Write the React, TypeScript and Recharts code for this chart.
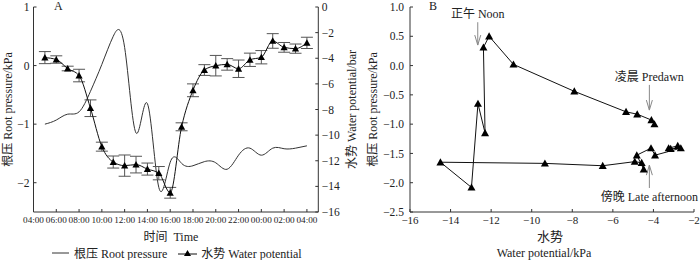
import { LineChart, Line, XAxis, YAxis, ErrorBar, Label, ReferenceLine } from 'recharts'

// hourly readings, 05:00 of day 1 to 04:00 of day 2 (hour 24+ = next day)
const hours = [5, 6, 7, 8, 9, 10, 11, 12, 13, 14, 15, 16, 17, 18, 19, 20, 21, 22, 23, 24, 25, 26, 27, 28]
const waterPotential = [
  -3.95, -4.1, -4.8, -5.35, -7.9, -10.9, -12.1, -12.38, -12.3, -12.65, -12.97, -14.5,
  -9.35, -6.5, -4.92, -4.58, -4.48, -4.82, -4.12, -3.92, -2.65, -3.15, -3.25, -2.8,
]
const waterPotentialErr = [
  0.47, 0.29, 0.18, 0.49, 0.65, 0.35, 0.47, 0.83, 0.65, 0.47, 0.52, 0.42,
  0.31, 0.5, 0.42, 0.8, 0.45, 0.68, 0.52, 0.52, 0.57, 0.38, 0.36, 0.44,
]
const rootPressure = [
  -1.0, -0.93, -0.83, -0.79, -0.44, 0.02, 0.5, 0.31, -1.15, -0.65, -2.08, -1.65,
  -1.67, -1.71, -1.64, -1.66, -1.77, -1.53, -1.41, -1.53, -1.41, -1.42, -1.41, -1.37,
]

const timeTicks = [4, 6, 8, 10, 12, 14, 16, 18, 20, 22, 24, 26, 28]
const rpTicksA = [1, 0, -1, -2]
const wpTicksA = [0, -2, -4, -6, -8, -10, -12, -14, -16]
const wpTicksB = [-16, -14, -12, -10, -8, -6, -4, -2]
const rpTicksB = [1, 0.5, 0, -0.5, -1, -1.5, -2, -2.5]

const notes = [
  { text: '正午 Noon', x: -12.66, from: 0.74, to: 0.35, below: false },
  { text: '凌晨 Predawn', x: -4.2, from: -0.33, to: -0.76, below: false },
  { text: '傍晚 Late afternoon', x: -4.2, from: -2.09, to: -1.7, below: true },
]

const rows = hours.map((h, i) => ({
  hour: h,
  wp: waterPotential[i],
  wpErr: waterPotentialErr[i],
  rp: rootPressure[i],
}))

const FONT = "'Liberation Serif', 'Noto Sans CJK SC', serif"
const INK = '#222'
const AXIS = '#333'

const minus = (v: number) => String(v).replace('-', '\u2212')
const minus1 = (v: number) => v.toFixed(1).replace('-', '\u2212')
const clock = (h: number) => `${String(h % 24).padStart(2, '0')}:00`

function Tri({ cx, cy, s }: { cx?: number; cy?: number; s: number }) {
  if (cx == null || cy == null) return null
  return <path d={`M${cx},${cy - s} L${cx + s},${cy + s * 0.8} L${cx - s},${cy + s * 0.8} Z`} fill="#000" />
}

const triDot = (s: number) => (p: any) => <Tri key={p.index} cx={p.cx} cy={p.cy} s={s} />

const tickStyle = { fontFamily: FONT, fill: INK }

function TimeLabel(props: any) {
  const vb = props.viewBox
  return (
    <text x={vb.x + vb.width / 2 - 5} y={vb.y + 29} textAnchor="middle" fontFamily={FONT} fontSize={12} fill={INK}>
      时间{'\u00a0 '}Time
    </text>
  )
}

function WaterLabel(props: any) {
  const vb = props.viewBox
  const cx = vb.x + vb.width / 2
  return (
    <g fontFamily={FONT} fill={INK} textAnchor="middle">
      <text x={cx - 2} y={vb.y + 29} fontSize={13}>水势</text>
      <text x={cx - 8} y={vb.y + 45} fontSize={12}>Water potential/kPa</text>
    </g>
  )
}

function Arrow(props: any) {
  const { x1, y1, x2, y2, note } = props
  const dir = y2 > y1 ? 1 : -1
  return (
    <g>
      <line x1={x1} y1={y1} x2={x2} y2={y2} stroke="#888" strokeWidth={1} />
      <path d={`M${x2 - 3},${y2 - dir * 10} L${x2},${y2} L${x2 + 3},${y2 - dir * 10}`} fill="none" stroke="#888" strokeWidth={1} />
      <text
        x={x1}
        y={note.below ? y1 + 13 : y1 - 4}
        textAnchor="middle"
        fontFamily={FONT}
        fontSize={12}
        fill={INK}
      >
        {note.text}
      </text>
    </g>
  )
}

function PanelA() {
  return (
    <LineChart width={365} height={260} data={rows} margin={{ top: 7, right: 0, bottom: 0, left: 0 }}>
      <XAxis
        dataKey="hour"
        type="number"
        domain={[4, 29]}
        ticks={timeTicks}
        tickFormatter={clock}
        interval={0}
        height={48}
        tickSize={-3}
        tickMargin={7}
        stroke={AXIS}
        tick={{ ...tickStyle, fontSize: 9.2 }}
      >
        <Label content={TimeLabel} />
      </XAxis>
      <YAxis
        yAxisId="left"
        type="number"
        domain={[-2.5, 1]}
        ticks={rpTicksA}
        interval={0}
        width={33.5}
        tickSize={-3}
        tickMargin={7}
        tickFormatter={minus}
        stroke={AXIS}
        tick={{ ...tickStyle, fontSize: 11.5 }}
      >
        <Label
          value="根压 Root pressure/kPa"
          angle={-90}
          position="insideLeft"
          offset={8}
          style={{ textAnchor: 'middle', fontFamily: FONT, fontSize: 12, fill: INK }}
        />
      </YAxis>
      <YAxis
        yAxisId="right"
        orientation="right"
        type="number"
        domain={[-16, 0]}
        ticks={wpTicksA}
        interval={0}
        width={46.7}
        tickSize={-3}
        tickMargin={6.4}
        tickFormatter={minus}
        stroke={AXIS}
        tick={{ ...tickStyle, fontSize: 11.5 }}
      >
        <Label
          value="水势 Water potential/bar"
          angle={-90}
          position="insideRight"
          offset={13}
          style={{ textAnchor: 'middle', fontFamily: FONT, fontSize: 12, fill: INK }}
        />
      </YAxis>
      <Line
        yAxisId="left"
        dataKey="rp"
        type="natural"
        stroke="#333"
        strokeWidth={1}
        dot={false}
        isAnimationActive={false}
      />
      <Line
        yAxisId="right"
        dataKey="wp"
        type="monotone"
        stroke="#111"
        strokeWidth={1}
        dot={triDot(3.6)}
        isAnimationActive={false}
      >
        <ErrorBar dataKey="wpErr" direction="y" width={6} stroke="#555" strokeWidth={1} isAnimationActive={false} />
      </Line>
    </LineChart>
  )
}

function PanelB() {
  return (
    <LineChart width={335} height={260} data={rows} margin={{ top: 7, right: 6, bottom: 0, left: 0 }}>
      <XAxis
        dataKey="wp"
        type="number"
        domain={[-16, -2]}
        ticks={wpTicksB}
        interval={0}
        height={48}
        tickSize={-3}
        tickMargin={7}
        tickFormatter={minus}
        stroke={AXIS}
        tick={{ ...tickStyle, fontSize: 11 }}
      >
        <Label content={WaterLabel} />
      </XAxis>
      <YAxis
        type="number"
        domain={[-2.5, 1]}
        ticks={rpTicksB}
        interval={0}
        width={45}
        tickSize={-3}
        tickMargin={9}
        tickFormatter={minus1}
        stroke={AXIS}
        tick={{ ...tickStyle, fontSize: 11.5 }}
      >
        <Label
          value="根压 Root pressure/kPa"
          angle={-90}
          position="insideLeft"
          offset={8}
          style={{ textAnchor: 'middle', fontFamily: FONT, fontSize: 12, fill: INK }}
        />
      </YAxis>
      <Line
        dataKey="rp"
        type="linear"
        stroke="#111"
        strokeWidth={1}
        dot={triDot(4)}
        isAnimationActive={false}
      />
      {notes.map((n) => (
        <ReferenceLine
          key={n.text}
          segment={[{ x: n.x, y: n.from }, { x: n.x, y: n.to }]}
          shape={(p: any) => <Arrow {...p} note={n} />}
        />
      ))}
    </LineChart>
  )
}

function Legend() {
  return (
    <div
      style={{
        position: 'absolute',
        left: 52,
        top: 244,
        display: 'flex',
        alignItems: 'center',
        fontFamily: FONT,
        fontSize: 12,
        color: INK,
        whiteSpace: 'nowrap',
      }}
    >
      <svg width={18} height={10}>
        <line x1={0} y1={5} x2={17} y2={5} stroke="#333" />
      </svg>
      <span style={{ marginLeft: 4 }}>根压 Root pressure</span>
      <svg width={19} height={10} style={{ marginLeft: 11 }}>
        <line x1={0} y1={6} x2={19} y2={6} stroke="#111" />
        <path d="M9.5,2 L13,8 L6,8 Z" fill="#000" />
      </svg>
      <span style={{ marginLeft: 4 }}>水势 Water potential</span>
    </div>
  )
}

export default function App() {
  return (
    <div style={{ position: 'absolute', left: 0, top: 0, width: 700, height: 260, background: '#fff' }}>
      <div style={{ position: 'absolute', left: 0, top: 0 }}>
        <PanelA />
      </div>
      <div style={{ position: 'absolute', left: 365, top: 0 }}>
        <PanelB />
      </div>
      <span style={{ position: 'absolute', left: 54, top: -1, fontFamily: FONT, fontSize: 12, color: INK }}>A</span>
      <span style={{ position: 'absolute', left: 429, top: -1, fontFamily: FONT, fontSize: 12, color: INK }}>B</span>
      <Legend />
    </div>
  )
}
